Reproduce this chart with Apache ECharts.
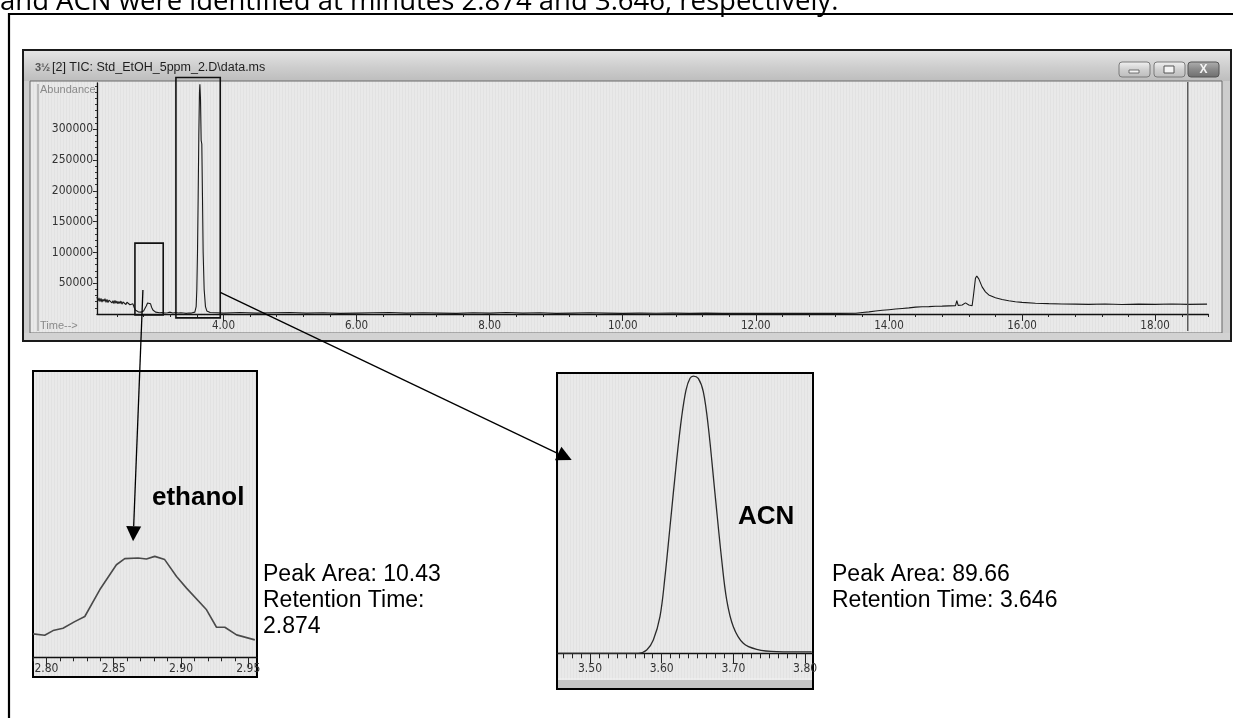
<!DOCTYPE html>
<html><head><meta charset="utf-8">
<script src="https://cdn.jsdelivr.net/npm/echarts@6.0.0/dist/echarts.min.js"></script>
<style>html,body{margin:0;padding:0;background:#fff;}#c{width:1233px;height:718px;}</style>
</head><body><div id="c"></div>
<script>
// ---------- DATA ----------
// Main TIC chromatogram (time in minutes, abundance)
const mainTime = [2.10,2.115,2.13,2.145,2.16,2.175,2.19,2.205,2.22,2.235,2.25,2.265,2.28,2.295,2.31,2.325,2.34,2.355,2.37,2.385,2.40,2.415,2.43,2.445,2.46,2.475,2.49,2.505,2.52,2.535,2.55,2.565,2.58,2.595,2.61,2.625,2.64,2.66,2.68,2.70,2.72,2.74,2.76,2.78,2.80,2.82,2.84,2.86,2.875,2.89,2.905,2.92,2.94,2.96,2.98,3.00,3.04,3.08,3.12,3.16,3.20,3.24,3.28,3.32,3.36,3.40,3.44,3.48,3.52,3.55,3.57,3.59,3.60,3.61,3.62,3.63,3.64,3.646,3.655,3.665,3.675,3.685,3.695,3.71,3.73,3.75,3.80,3.90,4.00,4.25,4.50,4.75,5.00,5.25,5.50,5.75,6.00,6.25,6.50,6.75,7.00,7.25,7.50,7.75,8.00,8.25,8.50,8.75,9.00,9.25,9.50,9.75,10.00,10.25,10.50,10.75,11.00,11.25,11.50,11.75,12.00,12.25,12.50,12.75,13.00,13.25,13.50,13.60,13.70,13.80,13.90,14.00,14.10,14.20,14.30,14.40,14.50,14.60,14.70,14.80,14.90,15.00,15.02,15.04,15.10,15.15,15.20,15.25,15.27,15.30,15.32,15.35,15.40,15.45,15.50,15.60,15.70,15.80,15.90,16.00,16.20,16.40,16.60,16.80,17.00,17.25,17.50,17.75,18.00,18.25,18.50,18.78];
const mainAbund = [28000,21000,26000,20000,25500,19500,24000,20500,25000,19000,23500,18500,22500,19500,23000,18000,21500,17000,22000,17500,21000,16500,20500,17000,21000,16000,19500,16500,20000,15500,19000,16000,18500,15000,18000,14500,16500,10000,6000,4500,3500,4000,3000,3500,5000,8000,13000,18000,20500,20000,16500,11000,6500,4000,3000,2500,2000,2500,1500,2000,3000,1500,2500,1500,2000,1500,1000,1500,1500,2000,3000,12000,40000,100000,190000,290000,360000,373000,350000,282000,276000,190000,100000,40000,12000,5000,2500,2000,1500,2500,1500,2000,2500,1500,2000,1000,1500,2000,2500,1500,2000,1500,1000,2000,1500,2500,1500,2000,1000,1500,2000,1500,1000,1500,1200,1500,1000,1500,1000,1200,1000,1000,1000,1000,1000,1000,1200,2500,3500,4800,6000,7000,8000,9000,10000,11200,11800,12000,12500,12800,13200,13500,21500,14000,14500,18000,14500,13500,30000,58000,61700,57000,44000,36000,31000,26500,23500,21500,20000,18800,17500,16800,16300,16000,15700,16200,15500,16000,15600,16200,15700,16000];
// Ethanol zoom inset
const ethTime  = [2.790,2.7987,2.8049,2.8123,2.821,2.8285,2.8396,2.852,2.8582,2.8681,2.8743,2.8805,2.8879,2.8967,2.9041,2.919,2.9264,2.9326,2.9413,2.9549];
const ethAbund = [1960,1850,2240,2440,2990,3420,5660,7760,8270,8330,8240,8460,8190,6780,5800,3980,2520,2520,1880,1460];
// ACN zoom inset
const acnTime  = [3.4558,3.5674,3.5791,3.5883,3.5976,3.6046,3.6116,3.6209,3.6279,3.6339,3.6395,3.6441,3.6510,3.6580,3.6650,3.6743,3.6837,3.6907,3.6999,3.7138,3.7325,3.7604,3.8092];
const acnAbund = [0,0,4480,18000,49700,104000,171800,262300,321100,357300,373200,376300,373200,355000,307500,217100,126600,72300,36100,13600,5400,2200,1800];
// Tick labels
const mainXTicks = [4,6,8,10,12,14,16,18];
const mainYTicks = [50000,100000,150000,200000,250000,300000];
const ethTicks = [2.80,2.85,2.90,2.95];
const acnTicks = [3.50,3.60,3.70,3.80];
// Annotation boxes (data units of main chart): [t0, t1, yTop, yBottom]
const ethBox = [2.670, 3.095, 115000, -1600];
const acnBox = [3.286, 3.952, 384000, -6300];
const cursorTime = 18.49;

// ---------- minor tick positions ----------
function range(a, b, s){ const r=[]; for(let v=a; v<=b+1e-9; v+=s) r.push(+v.toFixed(4)); return r; }
const mainXMinor = range(2.4, 18.8, 0.4);
const mainYMinor = range(10000, 370000, 10000);
const ethMinor = range(2.79, 2.95, 0.01);
const acnMinor = range(3.4625, 3.8125, 0.0125);

const zip = (a,b) => a.map((v,i)=>[v,b[i]]);
const NARROW = '"DejaVu Sans Condensed", "Liberation Sans Narrow", "Liberation Sans", sans-serif';

const pc = document.createElement('canvas'); pc.width = 3; pc.height = 4;
const pg = pc.getContext('2d'); pg.fillStyle = '#e9e9e9'; pg.fillRect(0,0,3,4); pg.fillStyle = '#e2e2e2'; pg.fillRect(0,0,1,4);
const stripe = {image: pc, repeat: 'repeat'};

function mkX(grid, min, max, ticks, len, lblMargin, fs, minor){
  if (minor) return {type:'value', gridIndex:grid, min, max, position:'bottom',
    axisLine:{show:false}, splitLine:{show:false}, axisLabel:{show:false},
    axisTick:{show:true, customValues:ticks, length:len, lineStyle:{color:'#222', width:1}}};
  return {type:'value', gridIndex:grid, min, max, position:'bottom',
    axisLine:{show:true, onZero:false, lineStyle:{color:'#111', width:1.3}},
    splitLine:{show:false},
    axisTick:{show:true, customValues:ticks, length:len, lineStyle:{color:'#222', width:1}},
    axisLabel:{show:true, customValues:ticks, margin:lblMargin, color:'#333', fontSize:fs, fontFamily:NARROW,
      formatter: v => v.toFixed(2)}};
}

const mainW = (18.80-2.10)*66.55;
const option = {
  animation:false,
  backgroundColor:'#ffffff',
  grid:[
    {left:97, top:83, width:mainW, height:231, outerBoundsMode:'none'},
    {left:33, top:371, width:224, height:286.3, outerBoundsMode:'none'},
    {left:557, top:373.3, width:256, height:280, outerBoundsMode:'none'}
  ],
  xAxis:[
    mkX(0, 2.10, 18.80, mainXTicks, 7, 6, 11.5),
    mkX(0, 2.10, 18.80, mainXMinor, 3, 0, 11, true),
    mkX(1, 2.790, 2.9565, ethTicks, 10, 6, 12),
    mkX(1, 2.790, 2.9565, ethMinor, 4, 0, 11, true),
    mkX(2, 3.454, 3.811, acnTicks, 10, 10, 12),
    mkX(2, 3.454, 3.811, acnMinor, 5, 0, 11, true)
  ],
  yAxis:[
    {type:'value', gridIndex:0, min:0, max:375000, position:'left',
      axisLine:{show:true, lineStyle:{color:'#111', width:1.3}}, splitLine:{show:false},
      axisTick:{show:true, customValues:mainYTicks, length:4, lineStyle:{color:'#222'}},
      axisLabel:{show:true, customValues:mainYTicks, margin:4, color:'#333', fontSize:12, fontFamily:NARROW,
        formatter: v => String(v)}},
    {type:'value', gridIndex:0, min:0, max:375000, position:'left',
      axisLine:{show:false}, splitLine:{show:false}, axisLabel:{show:false},
      axisTick:{show:true, customValues:mainYMinor, length:2, lineStyle:{color:'#333'}}},
    {type:'value', gridIndex:1, min:0, max:24000, show:false},
    {type:'value', gridIndex:2, min:0, max:380000, show:false}
  ],
  series:[
    {type:'line', xAxisIndex:0, yAxisIndex:0, data:zip(mainTime, mainAbund), showSymbol:false, z:5,
      lineStyle:{color:'#1a1a1a', width:1.1}},
    {type:'line', xAxisIndex:2, yAxisIndex:2, data:zip(ethTime, ethAbund), showSymbol:false, z:5,
      lineStyle:{color:'#4a4a4a', width:1.6}},
    {type:'line', xAxisIndex:4, yAxisIndex:3, data:zip(acnTime, acnAbund), showSymbol:false, smooth:0.35, z:5,
      lineStyle:{color:'#2a2a2a', width:1.3}}
  ]
};

const chart = echarts.init(document.getElementById('c'));
chart.setOption(option);

const px = (g, p) => chart.convertToPixel({gridIndex:g}, p);
function boxRect(b){
  const a = px(0,[b[0], b[2]]), c = px(0,[b[1], b[3]]);
  return {type:'rect', z:100, shape:{x:a[0], y:a[1], width:c[0]-a[0], height:c[1]-a[1]},
    style:{fill:'none', stroke:'#111', lineWidth:1.6}};
}
function arrow(p0, p1){
  const dx=p1[0]-p0[0], dy=p1[1]-p0[1], L=Math.hypot(dx,dy), ux=dx/L, uy=dy/L;
  const hl=15, hw=7.5;
  const bx=p1[0]-ux*hl, by=p1[1]-uy*hl;
  return [
    {type:'line', z:100, shape:{x1:p0[0], y1:p0[1], x2:bx, y2:by}, style:{stroke:'#000', lineWidth:1.3}},
    {type:'polygon', z:100, shape:{points:[[p1[0],p1[1]],[bx-uy*hw, by+ux*hw],[bx+uy*hw, by-ux*hw]]}, style:{fill:'#000'}}
  ];
}
const T = (text, x, y, font, fill, align, va) => ({type:'text', z:100,
  style:{text, x, y, font, fill:fill||'#000', textAlign:align||'left', textVerticalAlign:va||'middle'}});

const grad = (stops) => ({type:'linear', x:0, y:0, x2:0, y2:1, colorStops:stops.map((c,i)=>({offset:i/(stops.length-1), color:c}))});

const cx = px(0,[cursorTime, 0])[0];
const ethStart = px(0,[2.79, 39000]);
const acnStart = px(0,[3.952, 35000]);
const ethTip = px(1,[2.8644, 9725]);
const acnTip = px(2,[3.4745, 262300]);

const graphic = [
  // figure frame and preceding sentence
  {type:'polyline', z:-10, shape:{points:[[9,718],[9,14],[1233,14]]}, style:{stroke:'#000', lineWidth:2.2, fill:'none'}},
  T('and ACN were identified at minutes 2.874 and 3.646, respectively.', 0, 2.5, '27.5px "Open Sans"', '#000', 'left', 'middle'),
  // window
  {type:'rect', z:-10, shape:{x:23, y:50, width:1208, height:291}, style:{fill:'#cdcdcd', stroke:'#1a1a1a', lineWidth:2}},
  {type:'rect', z:-9, shape:{x:24, y:51, width:1206, height:30}, style:{fill:grad(['#e4e4e4','#cfcfcf','#bdbdbd'])}},
  {type:'rect', z:-9, shape:{x:30, y:81, width:1192, height:252}, style:{fill:stripe, stroke:'#6a6a6a', lineWidth:1}},
  {type:'rect', z:-9, shape:{x:24, y:333, width:1206, height:7}, style:{fill:'#d2d2d2'}},
  {type:'line', z:-8, shape:{x1:38, y1:84, x2:38, y2:331}, style:{stroke:'#8c8c8c', lineWidth:1}},
  T('3\u00BD', 35, 68, 'bold 11px "Liberation Sans"', '#555'),
  T('[2] TIC: Std_EtOH_5ppm_2.D\\data.ms', 52, 68, '12.5px "Liberation Sans"', '#1e1e1e'),
  T('Abundance', 40, 90, '11px "Liberation Sans"', '#8a8a8a'),
  T('Time-->', 40, 326, '11px "Liberation Sans"', '#8a8a8a'),
  // window buttons
  {type:'rect', z:-8, shape:{x:1119, y:62, width:31, height:15, r:3}, style:{fill:grad(['#f2f2f2','#d0d0d0','#bcbcbc']), stroke:'#7a7a7a', lineWidth:1}},
  {type:'rect', z:-7, shape:{x:1129, y:70, width:10, height:3}, style:{fill:'#f4f4f4', stroke:'#555', lineWidth:0.8}},
  {type:'rect', z:-8, shape:{x:1154, y:62, width:31, height:15, r:3}, style:{fill:grad(['#f2f2f2','#d0d0d0','#bcbcbc']), stroke:'#7a7a7a', lineWidth:1}},
  {type:'rect', z:-7, shape:{x:1164, y:66, width:10, height:7}, style:{fill:'#f4f4f4', stroke:'#555', lineWidth:1}},
  {type:'rect', z:-8, shape:{x:1188, y:62, width:31, height:15, r:3}, style:{fill:grad(['#b0b0b0','#8a8a8a','#6e6e6e']), stroke:'#555', lineWidth:1}},
  T('X', 1203.5, 69.5, 'bold 12px "Liberation Sans"', '#f4f4f4', 'center'),
  // cursor line
  {type:'line', z:100, shape:{x1:cx, y1:82, x2:cx, y2:331}, style:{stroke:'#555', lineWidth:1.4}},
  // insets
  {type:'rect', z:-10, shape:{x:33, y:371, width:224, height:306}, style:{fill:stripe, stroke:'#000', lineWidth:2}},
  {type:'rect', z:-10, shape:{x:557, y:373, width:256, height:316}, style:{fill:stripe, stroke:'#000', lineWidth:2}},
  {type:'rect', z:-9, shape:{x:558, y:680, width:254, height:8}, style:{fill:'#c4c4c4'}},
  {type:'line', z:-9, shape:{x1:558, y1:679, x2:812, y2:679}, style:{stroke:'#f2f2f2', lineWidth:1}},
  boxRect(ethBox), boxRect(acnBox),
  ...arrow(ethStart, ethTip), ...arrow(acnStart, acnTip),
  T('ethanol', 152, 498, 'bold 26px "Liberation Sans"'),
  T('ACN', 738, 517, 'bold 26px "Liberation Sans"'),
  T('Peak Area: 10.43', 263, 575, '23px "Liberation Sans"'),
  T('Retention Time:', 263, 601, '23px "Liberation Sans"'),
  T('2.874', 263, 627, '23px "Liberation Sans"'),
  T('Peak Area: 89.66', 832, 575, '23px "Liberation Sans"'),
  T('Retention Time: 3.646', 832, 601, '23px "Liberation Sans"')
];
chart.setOption({graphic});
</script>
</body></html>
